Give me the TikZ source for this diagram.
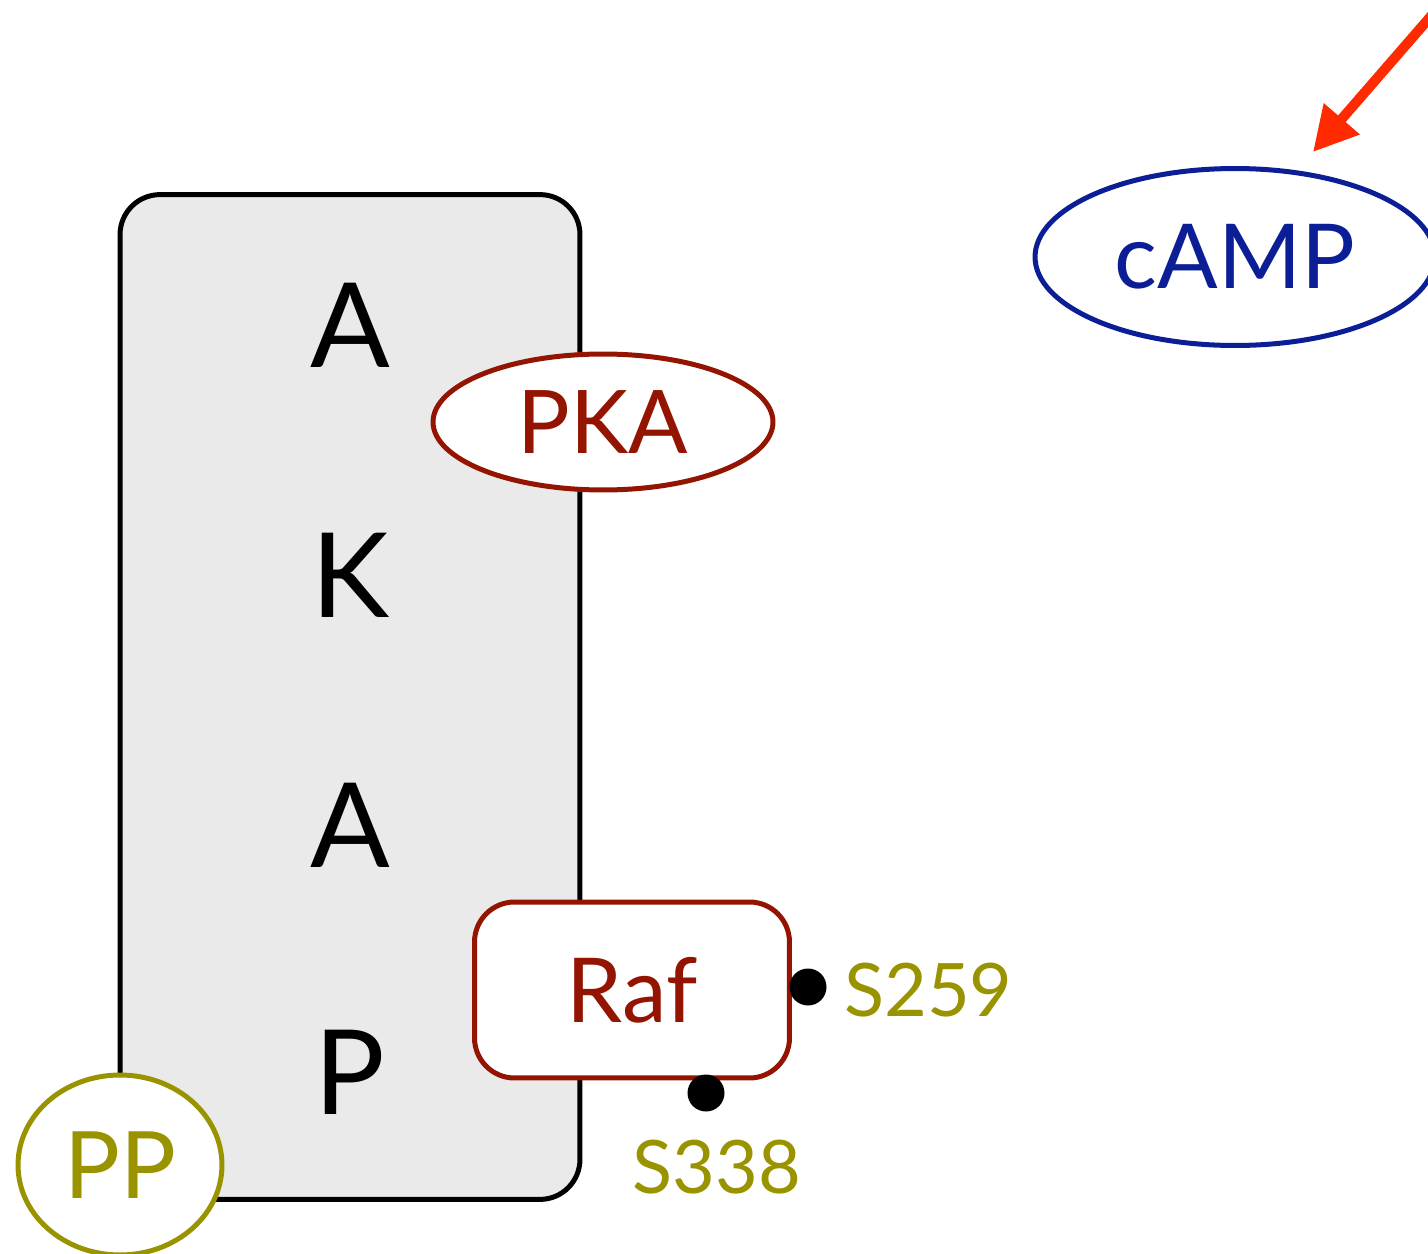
\documentclass[tikz,border=0pt]{standalone}
\usepackage{fontspec}
\setmainfont{Lato}
\usetikzlibrary{shapes.geometric,arrows.meta}
\definecolor{pkared}{HTML}{931400}
\definecolor{campblue}{HTML}{0B1E95}
\definecolor{siteolive}{HTML}{999300}
\definecolor{signalred}{HTML}{FF2A00}
\definecolor{akapgray}{HTML}{EAEAEA}
\begin{document}
\begin{tikzpicture}[x=0.02cm,y=-0.02cm]
  \tikzset{ scaffold/.style={draw,line width=0.1cm,fill=akapgray,rounded corners=0.8cm,minimum width=9.2cm,minimum height=20.1cm,inner sep=0pt},
    letter/.style={font=\fontsize{67}{67}\selectfont},
    kinase/.style={ellipse,draw=pkared,line width=0.1cm,fill=white,text=pkared,inner sep=0pt,font=\fontsize{50}{50}\selectfont},
    site/.style={circle,fill=black,inner sep=0pt,minimum size=0.74cm},
    sitelabel/.style={text=siteolive,font=\fontsize{42}{42}\selectfont},
  }
  \useasboundingbox (0,0) rectangle (1428,1254);

  % AKAP scaffold with its letters
  \node[scaffold] (akap) at (350,697) {};
  \node[letter] (a1) at (350,325) {A};
  \node[letter] (k) at (350,575) {K};
  \node[letter] (a2) at (350,825) {A};
  \node[letter] (p) at (350,1072) {P};

  % bound partners
  \node[kinase,minimum width=6.8cm,minimum height=2.72cm] (pka) at (603,422) {PKA};
  \node[draw=pkared,line width=0.1cm,fill=white,text=pkared,rounded corners=0.8cm,minimum width=6.3cm,minimum height=3.52cm,font=\fontsize{51}{51}\selectfont] (raf) at (632,990) {Raf};
  \node[ellipse,draw=siteolive,line width=0.1cm,fill=white,text=siteolive,minimum width=4.08cm,minimum height=3.6cm,inner sep=0pt,font=\fontsize{53}{53}\selectfont] (pp) at (120,1165) {PP};
  \node[ellipse,draw=campblue,line width=0.1cm,text=campblue,minimum width=8cm,minimum height=3.54cm,inner sep=0pt,font=\fontsize{51}{51}\selectfont] (camp) at (1235,257) {cAMP};

  % phosphorylation sites on Raf
  \node[site] (s259) at (808,987) {};
  \node[sitelabel,anchor=west] (s259l) at (838,990) {S259};
  \node[site] (s338) at (706,1093) {};
  \node[sitelabel] (s338l) at (717,1167) {S338};

  % the incoming cAMP signal
  \coordinate (src) at (1445,0);
  \coordinate (tip) at (1313,152);
  \draw[signalred,line width=0.2cm,-{Triangle[length=0.88cm,width=0.9cm]}] (src) -- (tip);
\end{tikzpicture}
\end{document}
